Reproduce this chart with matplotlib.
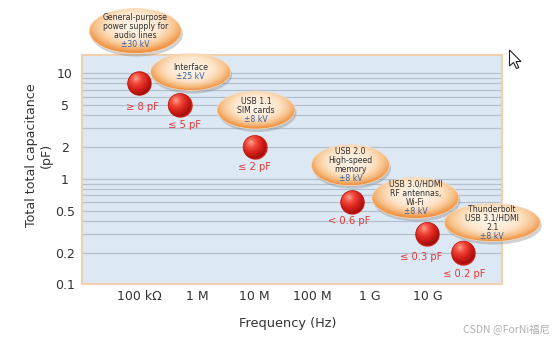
import numpy as np
import matplotlib
matplotlib.use('Agg')
import matplotlib.pyplot as plt
from matplotlib.patches import Ellipse, Circle, Polygon
from matplotlib.colors import to_rgb
from matplotlib.ticker import LogLocator, NullFormatter

# ---------------- data ----------------
freq_hz = [1e5, 5e5, 1e7, 5e8, 1e10, 4.2e10]
cap_pf = [8, 5, 2, 0.6, 0.3, 0.2]
cap_labels = ["\u2265 8 pF", "\u2264 5 pF", "\u2264 2 pF", "< 0.6 pF", "\u2264 0.3 pF", "\u2264 0.2 pF"]
app_names = ["General-purpose\npower supply for\naudio lines",
             "Interface",
             "USB 1.1\nSIM cards",
             "USB 2.0\nHigh-speed\nmemory",
             "USB 3.0/HDMI\nRF antennas,\nWi-Fi",
             "Thunderbolt\nUSB 3.1/HDMI\n2.1"]
esd_levels = ["\u00b130 kV", "\u00b125 kV", "\u00b18 kV", "\u00b18 kV", "\u00b18 kV", "\u00b18 kV"]
x_ticks = [1e5, 1e6, 1e7, 1e8, 1e9, 1e10]
x_tick_labels = ["100 k\u03a9", "1 M", "10 M", "100 M", "1 G", "10 G"]
y_ticks = [0.1, 0.2, 0.5, 1, 2, 5, 10]
y_tick_labels = ["0.1", "0.2", "0.5", "1", "2", "5", "10"]
x_label = "Frequency (Hz)"
y_label = "Total total capacitance\n(pF)"
watermark = "CSDN @ForNi\u798f\u5c3c"

# ---------------- layout (pixels) ----------------
W, H = 554, 341
bubble_offsets = [(-4, -52.5), (11, -33), (1.5, -37), (-2, -37), (-12, -36), (29, -30)]
bubble_sizes = [(92, 45), (80, 37), (78, 38), (78, 41), (87, 41), (96, 38)]
label_dx = [3, 5, 0, -3, -6, 1]
label_dy = [24, 20, 20, 19, 23, 21]
ball_r = 11.5

fig = plt.figure(figsize=(W / 100, H / 100), dpi=100)
fig.patch.set_facecolor('white')
L, R, T, B = 81.7, 502.3, 55, 284.3
ax = fig.add_axes([L / W, 1 - B / H, (R - L) / W, (B - T) / H])
ax.set_xscale('log')
ax.set_yscale('log')
ax.set_xlim(1e4, 10 ** 11.3)
ax.set_ylim(0.1, 14.9)
ax.set_facecolor('#dce8f4')

ax.set_xticks(x_ticks, x_tick_labels)
ax.xaxis.set_minor_locator(plt.NullLocator())
ax.set_yticks(y_ticks, y_tick_labels)
ax.yaxis.set_minor_locator(LogLocator(base=10, subs=np.arange(2, 10)))
ax.yaxis.set_minor_formatter(NullFormatter())
ax.tick_params(which='both', length=0)
ax.tick_params(axis='y', pad=12, labelsize=9, labelcolor='#333333')
ax.tick_params(axis='x', pad=4, labelsize=9, labelcolor='#333333')
for lab in ax.get_yticklabels():
    lab.set_horizontalalignment('center')
ax.grid(axis='y', which='both', color='#b4c1ce', lw=0.9)
ax.set_axisbelow(True)
for s in ax.spines.values():
    s.set_color('#f2cfae')
    s.set_linewidth(1.5)

ax.set_xlabel(x_label, fontsize=9.3, color='#333333', va='center')
ax.xaxis.set_label_coords((288 - L) / (R - L), (B - 323) / (B - T))
ax.set_ylabel(y_label, fontsize=9.1, color='#333333', va='center', ha='center',
              multialignment='center')
ax.yaxis.set_label_coords((39 - L) / (R - L), (B - 155.5) / (B - T))

# data marks
ax.scatter(freq_hz, cap_pf, s=(2 * ball_r * 0.72) ** 2, color='#d8221c', zorder=3)
for i, (f, c) in enumerate(zip(freq_hz, cap_pf)):
    ax.annotate(cap_labels[i], (f, c), xytext=(label_dx[i] * 0.72, -label_dy[i] * 0.72),
                textcoords='offset points', ha='center', va='center',
                fontsize=7.2, color='#e03a36', zorder=4)

# ---------------- overlay (pixel coords, y down) ----------------
ov = fig.add_axes([0, 0, 1, 1], zorder=5)
ov.set_xlim(0, W)
ov.set_ylim(H, 0)
ov.set_axis_off()
ov.patch.set_alpha(0)

pix = ax.transData.transform(np.column_stack([freq_hz, cap_pf]))
ball_x = pix[:, 0]
ball_y = H - pix[:, 1]


def ramp(t, stops):
    pos = [p for p, _ in stops]
    cols = np.array([to_rgb(c) for _, c in stops])
    return np.stack([np.interp(t, pos, cols[:, k]) for k in range(3)], axis=-1)


# radial-ish bubble gradient
M = 80
v, u = np.mgrid[-1:1:M * 1j, -1:1:M * 1j]
rr = np.clip(np.sqrt(u ** 2 + ((v + 0.15) / 1.1) ** 2), 0, 1)
tt = np.clip(rr ** 1.7 * (0.72 + 0.28 * (v + 1) / 2), 0, 1)
bub_grad = ramp(tt, [(0, '#fef4e8'), (0.35, '#fde4c8'), (0.65, '#f8c48e'), (1, '#ee9243')])

z = 10
for i in range(len(freq_hz)):
    cx = ball_x[i] + bubble_offsets[i][0]
    cy = ball_y[i] + bubble_offsets[i][1]
    w, h = bubble_sizes[i]
    sh = Ellipse((cx + 1.5, cy + 3), w, h, facecolor='#8a8a8a', alpha=0.4,
                 edgecolor='none', zorder=z)
    ov.add_patch(sh)
    e = Ellipse((cx, cy), w, h, facecolor='none', edgecolor='#f4dcc4', lw=0.5, zorder=z + 2)
    ov.add_patch(e)
    im = ov.imshow(bub_grad, extent=(cx - w / 2, cx + w / 2, cy + h / 2, cy - h / 2),
                   origin='upper', aspect='auto', interpolation='bilinear', zorder=z + 1)
    im.set_clip_path(e)
    lines = app_names[i].split('\n') + [esd_levels[i]]
    n = len(lines)
    pitch = 9.0
    for k, ln in enumerate(lines):
        yy = cy + (k - (n - 1) / 2) * pitch
        col = '#3562a8' if k == n - 1 else '#2e2e2e'
        ov.text(cx, yy, ln, ha='center', va='center', fontsize=5.6, color=col, zorder=z + 3)
    z += 5

# ball shading
N = 48
yy, xx = np.mgrid[-1:1:N * 1j, -1:1:N * 1j]
d = np.clip(np.sqrt((xx + 0.3) ** 2 + (yy + 0.45) ** 2) / 1.55, 0, 1)
ball_img = ramp(d, [(0, '#ffa090'), (0.3, '#f04a3a'), (0.6, '#d8221c'), (1, '#9a0c08')])
for i in range(len(freq_hz)):
    c = Circle((ball_x[i], ball_y[i]), ball_r, facecolor='none', edgecolor='#b01812',
               lw=0.4, zorder=z + 2)
    ov.add_patch(c)
    im = ov.imshow(ball_img, extent=(ball_x[i] - ball_r, ball_x[i] + ball_r,
                                     ball_y[i] + ball_r, ball_y[i] - ball_r),
                   origin='upper', aspect='auto', interpolation='bilinear', zorder=z + 1)
    im.set_clip_path(c)

# mouse cursor
cur = np.array([(0, 0), (0, 16), (4, 12.5), (7, 18.5), (9.3, 17.5), (6.4, 11.5), (11.5, 11.5)])
ov.add_patch(Polygon(cur + np.array([509.5, 50]), closed=True, facecolor='white',
                     edgecolor='#222222', lw=0.8, zorder=z + 10))

fig.text(550 / W, 1 - 330 / H, watermark, ha='right', va='center', fontsize=7.5,
         color='#b0b0b0', family=['Noto Sans CJK SC', 'DejaVu Sans'])

fig.savefig('out.png', dpi=100)
